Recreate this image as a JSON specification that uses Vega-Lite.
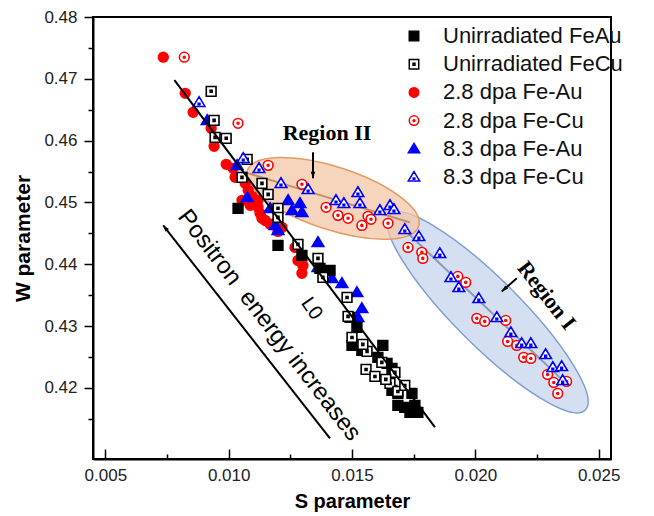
{
  "$schema": "https://vega.github.io/schema/vega-lite/v6.json",
  "width": 518,
  "height": 442,
  "autosize": {"type": "none"},
  "padding": {"left": 93, "top": 17, "right": 43, "bottom": 57},
  "background": "white",
  "config": {
    "view": {"stroke": "black", "strokeWidth": 2},
    "font": "Liberation Sans"
  },
  "datasets": {
    "pts": [
      {"series": "2.8 dpa Fe-Au", "S": 0.00735, "W": 0.4735},
      {"series": "2.8 dpa Fe-Au", "S": 0.00824, "W": 0.46765},
      {"series": "2.8 dpa Fe-Au", "S": 0.00856, "W": 0.46458},
      {"series": "2.8 dpa Fe-Au", "S": 0.00929, "W": 0.46199},
      {"series": "2.8 dpa Fe-Au", "S": 0.00941, "W": 0.45908},
      {"series": "2.8 dpa Fe-Au", "S": 0.0099, "W": 0.45617},
      {"series": "2.8 dpa Fe-Au", "S": 0.01018, "W": 0.45552},
      {"series": "2.8 dpa Fe-Au", "S": 0.01026, "W": 0.45406},
      {"series": "2.8 dpa Fe-Au", "S": 0.01067, "W": 0.45309},
      {"series": "2.8 dpa Fe-Au", "S": 0.01079, "W": 0.45196},
      {"series": "2.8 dpa Fe-Au", "S": 0.01095, "W": 0.45099},
      {"series": "2.8 dpa Fe-Au", "S": 0.01119, "W": 0.45034},
      {"series": "2.8 dpa Fe-Au", "S": 0.01119, "W": 0.44921},
      {"series": "2.8 dpa Fe-Au", "S": 0.01127, "W": 0.44824},
      {"series": "2.8 dpa Fe-Au", "S": 0.01148, "W": 0.4471},
      {"series": "2.8 dpa Fe-Au", "S": 0.01168, "W": 0.44646},
      {"series": "2.8 dpa Fe-Au", "S": 0.01192, "W": 0.44678},
      {"series": "2.8 dpa Fe-Au", "S": 0.01216, "W": 0.44597},
      {"series": "2.8 dpa Fe-Au", "S": 0.012, "W": 0.44532},
      {"series": "2.8 dpa Fe-Au", "S": 0.01269, "W": 0.44273},
      {"series": "2.8 dpa Fe-Au", "S": 0.01281, "W": 0.44063},
      {"series": "2.8 dpa Fe-Au", "S": 0.01301, "W": 0.43982},
      {"series": "2.8 dpa Fe-Au", "S": 0.01297, "W": 0.43853},
      {"series": "2.8 dpa Fe-Au", "S": 0.01054, "W": 0.45034},
      {"series": "2.8 dpa Fe-Au", "S": 0.01087, "W": 0.44953},
      {"series": "2.8 dpa Fe-Au", "S": 0.01135, "W": 0.44743},

      {"series": "8.3 dpa Fe-Au", "S": 0.00913, "W": 0.46328},
      {"series": "8.3 dpa Fe-Au", "S": 0.01034, "W": 0.456},
      {"series": "8.3 dpa Fe-Au", "S": 0.01075, "W": 0.45083},
      {"series": "8.3 dpa Fe-Au", "S": 0.01168, "W": 0.44905},
      {"series": "8.3 dpa Fe-Au", "S": 0.01241, "W": 0.45034},
      {"series": "8.3 dpa Fe-Au", "S": 0.01289, "W": 0.44985},
      {"series": "8.3 dpa Fe-Au", "S": 0.01297, "W": 0.4484},
      {"series": "8.3 dpa Fe-Au", "S": 0.01257, "W": 0.44872},
      {"series": "8.3 dpa Fe-Au", "S": 0.01188, "W": 0.44629},
      {"series": "8.3 dpa Fe-Au", "S": 0.012, "W": 0.44549},
      {"series": "8.3 dpa Fe-Au", "S": 0.01362, "W": 0.44354},
      {"series": "8.3 dpa Fe-Au", "S": 0.01362, "W": 0.4395},
      {"series": "8.3 dpa Fe-Au", "S": 0.01419, "W": 0.43772},
      {"series": "8.3 dpa Fe-Au", "S": 0.01459, "W": 0.43691},
      {"series": "8.3 dpa Fe-Au", "S": 0.0152, "W": 0.43545},
      {"series": "8.3 dpa Fe-Au", "S": 0.0154, "W": 0.43286},
      {"series": "8.3 dpa Fe-Au", "S": 0.01524, "W": 0.43141},

      {"series": "Unirradiated FeAu", "S": 0.01038, "W": 0.44905},
      {"series": "Unirradiated FeAu", "S": 0.012, "W": 0.44306},
      {"series": "Unirradiated FeAu", "S": 0.01297, "W": 0.44144},
      {"series": "Unirradiated FeAu", "S": 0.01411, "W": 0.43901},
      {"series": "Unirradiated FeAu", "S": 0.0137, "W": 0.43934},
      {"series": "Unirradiated FeAu", "S": 0.01492, "W": 0.43141},
      {"series": "Unirradiated FeAu", "S": 0.0152, "W": 0.42979},
      {"series": "Unirradiated FeAu", "S": 0.015, "W": 0.42688},
      {"series": "Unirradiated FeAu", "S": 0.01625, "W": 0.42688},
      {"series": "Unirradiated FeAu", "S": 0.01605, "W": 0.42494},
      {"series": "Unirradiated FeAu", "S": 0.01642, "W": 0.42396},
      {"series": "Unirradiated FeAu", "S": 0.01662, "W": 0.42316},
      {"series": "Unirradiated FeAu", "S": 0.01662, "W": 0.4196},
      {"series": "Unirradiated FeAu", "S": 0.01686, "W": 0.41911},
      {"series": "Unirradiated FeAu", "S": 0.01686, "W": 0.41717},
      {"series": "Unirradiated FeAu", "S": 0.01714, "W": 0.41684},
      {"series": "Unirradiated FeAu", "S": 0.01743, "W": 0.41911},
      {"series": "Unirradiated FeAu", "S": 0.01755, "W": 0.41717},
      {"series": "Unirradiated FeAu", "S": 0.01767, "W": 0.41604},
      {"series": "Unirradiated FeAu", "S": 0.01735, "W": 0.41604},
      {"series": "Unirradiated FeAu", "S": 0.0154, "W": 0.42607},

      {"series": "2.8 dpa Fe-Cu", "S": 0.0082, "W": 0.4735},
      {"series": "2.8 dpa Fe-Cu", "S": 0.01038, "W": 0.4628},
      {"series": "2.8 dpa Fe-Cu", "S": 0.0116, "W": 0.456},
      {"series": "2.8 dpa Fe-Cu", "S": 0.01297, "W": 0.45293},
      {"series": "2.8 dpa Fe-Cu", "S": 0.01395, "W": 0.44921},
      {"series": "2.8 dpa Fe-Cu", "S": 0.01443, "W": 0.44791},
      {"series": "2.8 dpa Fe-Cu", "S": 0.01484, "W": 0.44743},
      {"series": "2.8 dpa Fe-Cu", "S": 0.0154, "W": 0.44629},
      {"series": "2.8 dpa Fe-Cu", "S": 0.01565, "W": 0.44775},
      {"series": "2.8 dpa Fe-Cu", "S": 0.01577, "W": 0.44727},
      {"series": "2.8 dpa Fe-Cu", "S": 0.01646, "W": 0.44662},
      {"series": "2.8 dpa Fe-Cu", "S": 0.01727, "W": 0.44273},
      {"series": "2.8 dpa Fe-Cu", "S": 0.01783, "W": 0.44193},
      {"series": "2.8 dpa Fe-Cu", "S": 0.01787, "W": 0.44095},
      {"series": "2.8 dpa Fe-Cu", "S": 0.01929, "W": 0.43804},
      {"series": "2.8 dpa Fe-Cu", "S": 0.01961, "W": 0.43707},
      {"series": "2.8 dpa Fe-Cu", "S": 0.02006, "W": 0.43125},
      {"series": "2.8 dpa Fe-Cu", "S": 0.02038, "W": 0.43076},
      {"series": "2.8 dpa Fe-Cu", "S": 0.02123, "W": 0.43092},
      {"series": "2.8 dpa Fe-Cu", "S": 0.02131, "W": 0.42752},
      {"series": "2.8 dpa Fe-Cu", "S": 0.02168, "W": 0.42688},
      {"series": "2.8 dpa Fe-Cu", "S": 0.02196, "W": 0.42494},
      {"series": "2.8 dpa Fe-Cu", "S": 0.02225, "W": 0.42477},
      {"series": "2.8 dpa Fe-Cu", "S": 0.02293, "W": 0.42218},
      {"series": "2.8 dpa Fe-Cu", "S": 0.02318, "W": 0.42089},
      {"series": "2.8 dpa Fe-Cu", "S": 0.0237, "W": 0.42105},
      {"series": "2.8 dpa Fe-Cu", "S": 0.02334, "W": 0.41911},

      {"series": "Unirradiated FeCu", "S": 0.00929, "W": 0.46798},
      {"series": "Unirradiated FeCu", "S": 0.00941, "W": 0.46328},
      {"series": "Unirradiated FeCu", "S": 0.00945, "W": 0.46053},
      {"series": "Unirradiated FeCu", "S": 0.0099, "W": 0.46037},
      {"series": "Unirradiated FeCu", "S": 0.01075, "W": 0.45697},
      {"series": "Unirradiated FeCu", "S": 0.01054, "W": 0.45406},
      {"series": "Unirradiated FeCu", "S": 0.01135, "W": 0.45309},
      {"series": "Unirradiated FeCu", "S": 0.0116, "W": 0.45131},
      {"series": "Unirradiated FeCu", "S": 0.012, "W": 0.44905},
      {"series": "Unirradiated FeCu", "S": 0.012, "W": 0.44759},
      {"series": "Unirradiated FeCu", "S": 0.01281, "W": 0.44322},
      {"series": "Unirradiated FeCu", "S": 0.01362, "W": 0.44095},
      {"series": "Unirradiated FeCu", "S": 0.01382, "W": 0.43788},
      {"series": "Unirradiated FeCu", "S": 0.0148, "W": 0.43464},
      {"series": "Unirradiated FeCu", "S": 0.01484, "W": 0.43157},
      {"series": "Unirradiated FeCu", "S": 0.015, "W": 0.42817},
      {"series": "Unirradiated FeCu", "S": 0.01561, "W": 0.42591},
      {"series": "Unirradiated FeCu", "S": 0.01621, "W": 0.42413},
      {"series": "Unirradiated FeCu", "S": 0.01557, "W": 0.42299},
      {"series": "Unirradiated FeCu", "S": 0.01593, "W": 0.42186},
      {"series": "Unirradiated FeCu", "S": 0.01674, "W": 0.42251},
      {"series": "Unirradiated FeCu", "S": 0.01654, "W": 0.42073},
      {"series": "Unirradiated FeCu", "S": 0.01686, "W": 0.41943},
      {"series": "Unirradiated FeCu", "S": 0.01714, "W": 0.4204},
      {"series": "Unirradiated FeCu", "S": 0.01544, "W": 0.42704},
      {"series": "Unirradiated FeCu", "S": 0.01637, "W": 0.42138},

      {"series": "8.3 dpa Fe-Cu", "S": 0.0088, "W": 0.4662},
      {"series": "8.3 dpa Fe-Cu", "S": 0.01059, "W": 0.45714},
      {"series": "8.3 dpa Fe-Cu", "S": 0.01123, "W": 0.45552},
      {"series": "8.3 dpa Fe-Cu", "S": 0.01212, "W": 0.45309},
      {"series": "8.3 dpa Fe-Cu", "S": 0.01322, "W": 0.45212},
      {"series": "8.3 dpa Fe-Cu", "S": 0.01435, "W": 0.45034},
      {"series": "8.3 dpa Fe-Cu", "S": 0.01467, "W": 0.44985},
      {"series": "8.3 dpa Fe-Cu", "S": 0.01524, "W": 0.45163},
      {"series": "8.3 dpa Fe-Cu", "S": 0.01532, "W": 0.44985},
      {"series": "8.3 dpa Fe-Cu", "S": 0.01613, "W": 0.44872},
      {"series": "8.3 dpa Fe-Cu", "S": 0.01654, "W": 0.44953},
      {"series": "8.3 dpa Fe-Cu", "S": 0.0167, "W": 0.44888},
      {"series": "8.3 dpa Fe-Cu", "S": 0.01714, "W": 0.44565},
      {"series": "8.3 dpa Fe-Cu", "S": 0.01771, "W": 0.44451},
      {"series": "8.3 dpa Fe-Cu", "S": 0.01856, "W": 0.44176},
      {"series": "8.3 dpa Fe-Cu", "S": 0.01901, "W": 0.43788},
      {"series": "8.3 dpa Fe-Cu", "S": 0.01933, "W": 0.43626},
      {"series": "8.3 dpa Fe-Cu", "S": 0.02014, "W": 0.43448},
      {"series": "8.3 dpa Fe-Cu", "S": 0.02087, "W": 0.43141},
      {"series": "8.3 dpa Fe-Cu", "S": 0.02144, "W": 0.42898},
      {"series": "8.3 dpa Fe-Cu", "S": 0.02188, "W": 0.4272},
      {"series": "8.3 dpa Fe-Cu", "S": 0.02225, "W": 0.4272},
      {"series": "8.3 dpa Fe-Cu", "S": 0.02285, "W": 0.42542},
      {"series": "8.3 dpa Fe-Cu", "S": 0.02314, "W": 0.42332},
      {"series": "8.3 dpa Fe-Cu", "S": 0.0235, "W": 0.42348},
      {"series": "8.3 dpa Fe-Cu", "S": 0.02354, "W": 0.42121}
    ]
  },
  "encoding": {
    "x": {
      "field": "S", "type": "quantitative",
      "scale": {"domain": [0.0045, 0.0255], "nice": false, "zero": false},
      "axis": {
        "title": "S parameter",
        "values": [0.005, 0.0075, 0.01, 0.0125, 0.015, 0.0175, 0.02, 0.0225, 0.025],
        "labelExpr": "abs(datum.value*200 - round(datum.value*200)) < 0.01 ? format(datum.value, '.3f') : ''",
        "tickSize": {"condition": {"test": "abs(datum.value*200 - round(datum.value*200)) < 0.01", "value": -10}, "value": -5},
        "labelPadding": 18,
        "grid": false,
        "domainWidth": 2, "domainColor": "black",
        "tickColor": "black", "tickWidth": 1.5,
        "labelFont": "Liberation Sans", "labelFontSize": 17, "labelColor": "#222",
        "labelFlush": false, "labelOverlap": false,
        "titleFont": "Liberation Sans", "titleFontSize": 20, "titleFontWeight": "bold", "titleColor": "black",
        "titlePadding": 3
      }
    },
    "y": {
      "field": "W", "type": "quantitative",
      "scale": {"domain": [0.4085, 0.48], "nice": false, "zero": false},
      "axis": {
        "title": "W parameter",
        "values": [0.415, 0.42, 0.425, 0.43, 0.435, 0.44, 0.445, 0.45, 0.455, 0.46, 0.465, 0.47, 0.475, 0.48],
        "labelExpr": "abs(datum.value*100 - round(datum.value*100)) < 0.01 ? format(datum.value, '.2f') : ''",
        "tickSize": {"condition": {"test": "abs(datum.value*100 - round(datum.value*100)) < 0.01", "value": 9}, "value": 5},
        "labelPadding": 7,
        "grid": false,
        "domainWidth": 2, "domainColor": "black",
        "tickColor": "black", "tickWidth": 1.5,
        "labelFont": "Liberation Sans", "labelFontSize": 17, "labelColor": "#222",
        "labelFlush": false, "labelOverlap": false,
        "titleFont": "Liberation Sans", "titleFontSize": 21, "titleFontWeight": "bold", "titleColor": "black",
        "titlePadding": 10
      }
    }
  },
  "layer": [
    {
      "data": {"values": [{"S": 0.0205, "W": 0.43222}]},
      "mark": {"type": "point", "filled": true, "shape": "M-1,0C-1,-0.1326,-0.5523,-0.24,0,-0.24C0.5523,-0.24,1,-0.1326,1,0C1,0.1326,0.5523,0.24,0,0.24C-0.5523,0.24,-1,0.1326,-1,0Z", "size": 76176, "angle": 45, "fill": "#c5d5ee", "fillOpacity": 0.75, "stroke": "#7f9ed4", "strokeWidth": 1.5, "opacity": 1}
    },
    {
      "data": {"values": [{"S": 0.01423, "W": 0.45066}]},
      "mark": {"type": "point", "filled": true, "shape": "M-1,0C-1,-0.1933,-0.5523,-0.35,0,-0.35C0.5523,-0.35,1,-0.1933,1,0C1,0.1933,0.5523,0.35,0,0.35C-0.5523,0.35,-1,0.1933,-1,0Z", "size": 32400, "angle": 18, "fill": "#f4c7a6", "fillOpacity": 0.75, "stroke": "#e59a62", "strokeWidth": 1.5, "opacity": 1}
    },
    {
      "data": {"values": [{"S": 0.017144, "W": 0.44549}, {"S": 0.023419, "W": 0.4217}]},
      "mark": {"type": "line", "color": "#5a6a80", "strokeWidth": 2, "opacity": 0.6}
    },
    {
      "data": {"values": [{"S": 0.010666, "W": 0.45487}, {"S": 0.017346, "W": 0.44678}]},
      "mark": {"type": "line", "color": "#a0602a", "strokeWidth": 2, "opacity": 0.6}
    },
    {
      "data": {"name": "pts"},
      "mark": {"type": "point", "filled": true, "size": 95, "strokeWidth": 1.6, "opacity": 1},
      "encoding": {
        "shape": {
          "field": "series", "type": "nominal",
          "scale": {
            "domain": ["Unirradiated FeAu", "Unirradiated FeCu", "2.8 dpa Fe-Au", "2.8 dpa Fe-Cu", "8.3 dpa Fe-Au", "8.3 dpa Fe-Cu"],
            "range": [
              "M-1,-1H1V1H-1Z",
              "M-1,-1H1V1H-1Z M-0.2,-0.2H0.2V0.2H-0.2Z",
              "M-1,0C-1,-0.5523,-0.5523,-1,0,-1C0.5523,-1,1,-0.5523,1,0C1,0.5523,0.5523,1,0,1C-0.5523,1,-1,0.5523,-1,0Z",
              "M-1,0C-1,-0.5523,-0.5523,-1,0,-1C0.5523,-1,1,-0.5523,1,0C1,0.5523,0.5523,1,0,1C-0.5523,1,-1,0.5523,-1,0Z M-0.2,0C-0.2,-0.11,-0.11,-0.2,0,-0.2C0.11,-0.2,0.2,-0.11,0.2,0C0.2,0.11,0.11,0.2,0,0.2C-0.11,0.2,-0.2,0.11,-0.2,0Z",
              "M0,-1.15L1.2,0.85H-1.2Z",
              "M0,-1.15L1.2,0.85H-1.2Z M-0.17,0.2H0.17V0.5H-0.17Z"
            ]
          },
          "legend": {"orient": "none", "legendX": 310, "legendY": 8, "title": null, "labelFont": "Liberation Sans", "labelFontSize": 22, "labelColor": "#111", "labelLimit": 400, "symbolSize": 90, "symbolStrokeWidth": 1.5, "rowPadding": 6.2, "labelOffset": 18}
        },
        "fill": {
          "field": "series", "type": "nominal",
          "scale": {
            "domain": ["Unirradiated FeAu", "Unirradiated FeCu", "2.8 dpa Fe-Au", "2.8 dpa Fe-Cu", "8.3 dpa Fe-Au", "8.3 dpa Fe-Cu"],
            "range": ["#000000", "#ffffff", "#ff0000", "#ffffff", "#0000ff", "#ffffff"]
          },
          "legend": {"orient": "none", "legendX": 310, "legendY": 8, "title": null, "labelFont": "Liberation Sans", "labelFontSize": 22, "labelColor": "#111", "labelLimit": 400, "symbolSize": 90, "symbolStrokeWidth": 1.5, "rowPadding": 6.2, "labelOffset": 18}
        },
        "stroke": {
          "field": "series", "type": "nominal",
          "scale": {
            "domain": ["Unirradiated FeAu", "Unirradiated FeCu", "2.8 dpa Fe-Au", "2.8 dpa Fe-Cu", "8.3 dpa Fe-Au", "8.3 dpa Fe-Cu"],
            "range": ["#000000", "#000000", "#ff0000", "#ff0000", "#0000ff", "#0000ff"]
          },
          "legend": {"orient": "none", "legendX": 310, "legendY": 8, "title": null, "labelFont": "Liberation Sans", "labelFontSize": 22, "labelColor": "#111", "labelLimit": 400, "symbolSize": 90, "symbolStrokeWidth": 1.5, "rowPadding": 6.2, "labelOffset": 18}
        }
      }
    },
    {
      "data": {"values": [{"S": 0.0078, "W": 0.4698}, {"S": 0.01836, "W": 0.41366}]},
      "mark": {"type": "line", "color": "black", "strokeWidth": 2}
    },
    {
      "data": {"values": [
        {"S": 0.014107, "W": 0.41183, "arrow": "positron"}, {"S": 0.007346, "W": 0.4463, "arrow": "positron"},
        {"S": 0.013419, "W": 0.45811, "arrow": "r2"}, {"S": 0.013419, "W": 0.4539, "arrow": "r2"},
        {"S": 0.02168, "W": 0.43772, "arrow": "r1"}, {"S": 0.02107, "W": 0.43561, "arrow": "r1"}
      ]},
      "mark": {"type": "line", "color": "black", "strokeWidth": 2},
      "encoding": {"detail": {"field": "arrow", "type": "nominal"}}
    },
    {
      "data": {"values": [{"S": 0.007346, "W": 0.4463}]},
      "mark": {"type": "point", "filled": true, "color": "black", "opacity": 1, "shape": "M0,0L0.45,1.3L-0.45,1.3Z", "size": 100, "angle": -38}
    },
    {
      "data": {"values": [{"S": 0.013419, "W": 0.4539}]},
      "mark": {"type": "point", "filled": true, "color": "black", "opacity": 1, "shape": "M0,0L0.45,1.3L-0.45,1.3Z", "size": 100, "angle": 180}
    },
    {
      "data": {"values": [{"S": 0.02107, "W": 0.43561}]},
      "mark": {"type": "point", "filled": true, "color": "black", "opacity": 1, "shape": "M0,0L0.45,1.3L-0.45,1.3Z", "size": 100, "angle": 229}
    },
    {
      "data": {"values": [{"S": 0.01164, "W": 0.43011, "label": "Positron\u00a0 energy increases"}]},
      "mark": {"type": "text", "font": "Liberation Sans", "fontSize": 24, "angle": 52.5, "align": "center", "baseline": "middle", "color": "black"},
      "encoding": {"text": {"field": "label"}}
    },
    {
      "data": {"values": [{"S": 0.013986, "W": 0.46118, "label": "Region II"}]},
      "mark": {"type": "text", "font": "Liberation Serif", "fontSize": 22, "fontWeight": "bold", "align": "center", "baseline": "middle", "color": "black"},
      "encoding": {"text": {"field": "label"}}
    },
    {
      "data": {"values": [{"S": 0.02289, "W": 0.43497, "label": "Region I"}]},
      "mark": {"type": "text", "font": "Liberation Serif", "fontSize": 22, "fontWeight": "bold", "angle": 52, "align": "center", "baseline": "middle", "color": "black"},
      "encoding": {"text": {"field": "label"}}
    },
    {
      "data": {"values": [{"S": 0.013366, "W": 0.43282, "label": "L0"}]},
      "mark": {"type": "text", "font": "Liberation Sans", "fontSize": 20, "angle": 55, "align": "center", "baseline": "middle", "color": "black"},
      "encoding": {"text": {"field": "label"}}
    }
  ]
}
